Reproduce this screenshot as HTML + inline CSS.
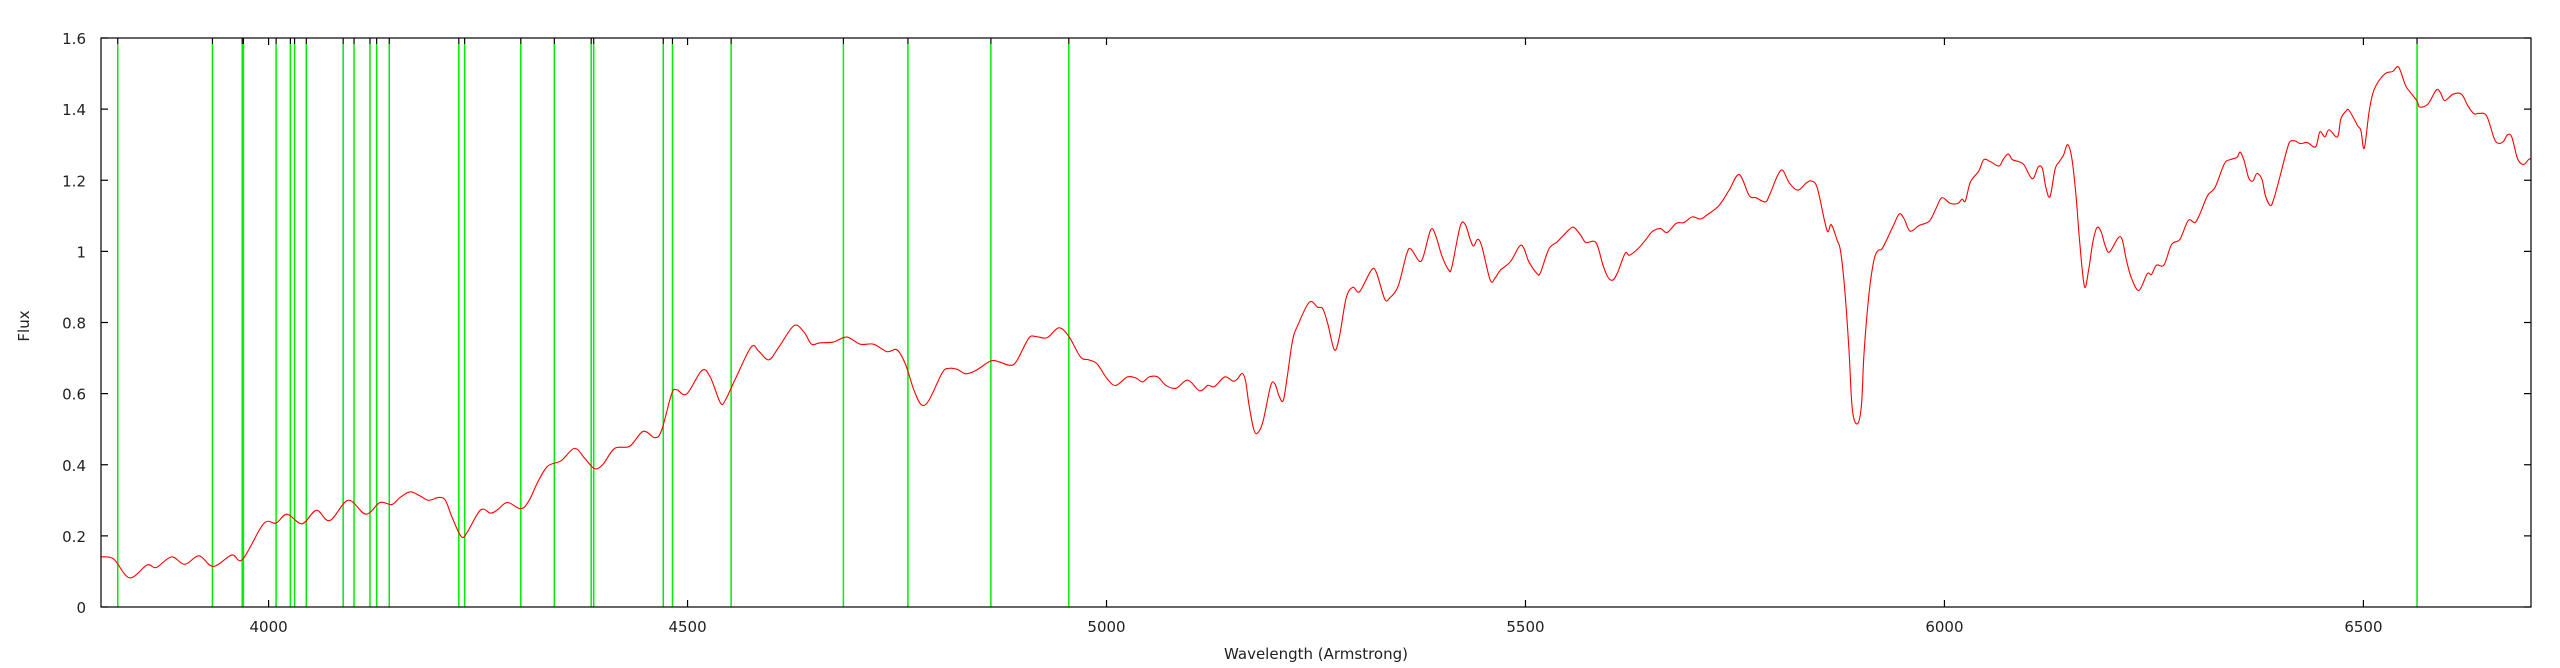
<!DOCTYPE html>
<html><head><meta charset="utf-8"><style>
html,body{margin:0;padding:0;background:#fff;}
svg{display:block;font-family:"DejaVu Sans","Liberation Sans",sans-serif;}
</style></head><body>
<svg id="chart" width="2560" height="668" viewBox="0 0 2560 668" xmlns="http://www.w3.org/2000/svg">
<rect x="0" y="0" width="2560" height="668" fill="#fff"/>
<g id="lines"></g>
<g id="series"></g>
<g id="axes"></g>
<text x="0" y="0" font-size="15" fill="#222" text-anchor="middle" transform="translate(29,326) rotate(-90)">Flux</text>
<text x="1316" y="659" font-size="15" fill="#222" text-anchor="middle">Wavelength (Armstrong)</text>
</svg>
<script>
const xTicks=[4000,4500,5000,5500,6000,6500];
const yTicks=[0,0.2,0.4,0.6,0.8,1,1.2,1.4,1.6];
const yTickLabels=["0","0.2","0.4","0.6","0.8","1","1.2","1.4","1.6"];
const lineWavelengths=[3820,3933,3968.5,3970,4009,4026,4031,4045,4089,4102,4121,4129,4144,4227,4234,4301,4341,4385,4388,4471,4482,4552,4686,4763,4862,4955,6564];
const wavelengths=[3800,3815,3834,3855,3866,3884,3900,3917,3934,3956,3969,3994,4009,4022,4040,4057,4073,4095,4116,4133,4147,4157,4169,4181,4191,4203,4211,4219,4230,4237,4253,4265,4273,4285,4301,4311,4321,4333,4349,4365,4377,4389,4399,4413,4431,4447,4461,4469,4481,4487,4499,4517,4527,4539,4545,4557,4576,4585,4597,4609,4627,4639,4648,4658,4674,4690,4706,4722,4738,4750,4760,4770,4779,4788,4804,4812,4822,4832,4844,4862,4872,4884,4892,4907,4915,4929,4943,4955,4969,4979,4989,5001,5011,5025,5035,5043,5051,5061,5071,5083,5097,5111,5121,5129,5141,5151,5156,5162,5166,5170,5176,5181,5187,5196,5201,5206,5211,5216,5222,5228,5242,5252,5258,5264,5272,5278,5286,5294,5302,5316,5322,5332,5338,5348,5358,5363,5373,5378,5387,5393,5400,5408,5412,5422,5428,5434,5438,5443,5448,5458,5464,5470,5482,5493,5498,5504,5514,5518,5528,5538,5552,5558,5566,5572,5584,5592,5598,5604,5610,5619,5624,5634,5644,5651,5661,5669,5680,5689,5699,5709,5717,5731,5743,5755,5767,5775,5786,5791,5801,5807,5815,5825,5835,5841,5848,5857,5861,5865,5872,5876,5881,5886,5890,5896,5901,5904,5910,5916,5921,5926,5938,5946,5952,5959,5970,5982,5990,5997,6007,6016,6021,6025,6031,6041,6047,6055,6065,6070,6076,6081,6089,6095,6105,6112,6117,6121,6126,6132,6137,6142,6147,6152,6157,6161,6167,6172,6177,6182,6187,6192,6197,6207,6212,6217,6223,6232,6242,6247,6253,6262,6271,6281,6291,6299,6305,6314,6323,6334,6341,6349,6353,6358,6363,6368,6373,6379,6383,6389,6393,6399,6409,6413,6419,6425,6433,6443,6448,6454,6459,6469,6473,6479,6483,6493,6497,6501,6507,6513,6525,6535,6542,6550,6555,6564,6567,6577,6587,6592,6597,6607,6617,6625,6632,6638,6647,6656,6661,6667,6672,6677,6683,6687,6692,6697,6700];
const fluxValues=[0.141,0.135,0.082,0.118,0.111,0.141,0.120,0.144,0.114,0.146,0.134,0.234,0.236,0.261,0.234,0.272,0.243,0.300,0.261,0.294,0.288,0.308,0.324,0.312,0.300,0.308,0.300,0.252,0.198,0.210,0.273,0.264,0.273,0.294,0.276,0.300,0.350,0.396,0.411,0.446,0.419,0.389,0.401,0.446,0.452,0.494,0.476,0.497,0.599,0.611,0.599,0.665,0.647,0.575,0.581,0.641,0.731,0.719,0.695,0.731,0.791,0.773,0.739,0.743,0.745,0.759,0.739,0.739,0.718,0.723,0.683,0.611,0.569,0.581,0.659,0.671,0.668,0.656,0.665,0.692,0.689,0.680,0.689,0.755,0.761,0.757,0.785,0.761,0.703,0.695,0.683,0.641,0.623,0.647,0.644,0.633,0.647,0.647,0.623,0.615,0.638,0.608,0.623,0.620,0.647,0.635,0.641,0.657,0.635,0.569,0.497,0.491,0.524,0.623,0.627,0.593,0.581,0.653,0.749,0.791,0.857,0.843,0.839,0.797,0.723,0.761,0.869,0.899,0.887,0.947,0.941,0.866,0.869,0.902,0.991,1.007,0.973,0.985,1.061,1.043,0.989,0.949,0.955,1.070,1.076,1.034,1.015,1.034,1.013,0.919,0.926,0.947,0.971,1.015,1.009,0.971,0.937,0.941,1.007,1.027,1.061,1.067,1.045,1.025,1.025,0.965,0.929,0.919,0.941,0.995,0.989,1.007,1.034,1.055,1.064,1.053,1.079,1.081,1.097,1.091,1.103,1.129,1.172,1.216,1.157,1.151,1.139,1.157,1.214,1.228,1.192,1.172,1.192,1.198,1.180,1.085,1.055,1.075,1.031,1.001,0.893,0.725,0.557,0.515,0.569,0.713,0.881,0.977,1.003,1.009,1.067,1.105,1.091,1.057,1.073,1.085,1.121,1.151,1.135,1.135,1.147,1.142,1.195,1.226,1.258,1.252,1.240,1.258,1.274,1.258,1.252,1.243,1.204,1.238,1.232,1.180,1.154,1.231,1.252,1.270,1.300,1.262,1.157,1.037,0.902,0.947,1.025,1.067,1.055,1.015,0.998,1.037,1.034,0.977,0.926,0.890,0.937,0.935,0.961,0.962,1.019,1.034,1.087,1.081,1.106,1.157,1.180,1.246,1.258,1.264,1.279,1.252,1.207,1.198,1.219,1.202,1.157,1.129,1.147,1.198,1.288,1.310,1.310,1.303,1.306,1.294,1.336,1.322,1.342,1.322,1.372,1.394,1.396,1.354,1.340,1.290,1.396,1.456,1.498,1.506,1.518,1.468,1.450,1.423,1.406,1.414,1.454,1.446,1.424,1.442,1.442,1.408,1.387,1.388,1.381,1.318,1.304,1.309,1.328,1.322,1.267,1.249,1.245,1.258,1.261];

const NS="http://www.w3.org/2000/svg";
const L=101,R=2531,T=38,B=607,XMIN=3800,XMAX=6700,YMIN=0,YMAX=1.6;
function xScale(w){return L+(w-XMIN)/(XMAX-XMIN)*(R-L);}
function yScale(f){return B-(f-YMIN)/(YMAX-YMIN)*(B-T);}
function mk(tag,attrs,parent){const e=document.createElementNS(NS,tag);for(const k in attrs)e.setAttribute(k,attrs[k]);parent.appendChild(e);return e;}

const lg=document.getElementById('lines');
lineWavelengths.forEach(w=>{
  const x=xScale(w);
  const ln=mk('line',{x1:x,x2:x,y1:B,y2:T+6,stroke:'#00ee00','stroke-width':1.5},lg);
  
  
  const tk=mk('line',{x1:x,x2:x,y1:T,y2:T+6,stroke:'#000','stroke-width':1.2},lg);
  
  
});

const sg=document.getElementById('series');
const P=wavelengths.map((w,i)=>[xScale(w),yScale(fluxValues[i])]);
let d='M'+P[0][0].toFixed(2)+','+P[0][1].toFixed(2);
for(let i=0;i<P.length-1;i++){
  const p0=P[Math.max(0,i-1)],p1=P[i],p2=P[i+1],p3=P[Math.min(P.length-1,i+2)];
  const c1x=p1[0]+(p2[0]-p0[0])/6,c1y=p1[1]+(p2[1]-p0[1])/6;
  const c2x=p2[0]-(p3[0]-p1[0])/6,c2y=p2[1]-(p3[1]-p1[1])/6;
  d+=' C'+c1x.toFixed(2)+','+c1y.toFixed(2)+' '+c2x.toFixed(2)+','+c2y.toFixed(2)+' '+p2[0].toFixed(2)+','+p2[1].toFixed(2);
}
const pl=mk('path',{d:d,fill:'none',stroke:'#ff0000','stroke-width':1.1,'stroke-linejoin':'round'},sg);



const ag=document.getElementById('axes');
const frame=mk('rect',{x:L,y:T,width:R-L,height:B-T,fill:'none',stroke:'#000','stroke-width':1.2},ag);


xTicks.forEach(v=>{
  const x=xScale(v);
  mk('line',{x1:x,x2:x,y1:B,y2:B-7,stroke:'#000','stroke-width':1.2},ag);
  mk('line',{x1:x,x2:x,y1:T,y2:T+7,stroke:'#000','stroke-width':1.2},ag);
  const t=mk('text',{x:x,y:B+25,'font-size':15,fill:'#222','text-anchor':'middle'},ag);
  t.textContent=String(v);
  
  
});
yTicks.forEach((v,i)=>{
  const y=yScale(v);
  mk('line',{x1:L,x2:L+7,y1:y,y2:y,stroke:'#000','stroke-width':1.2},ag);
  mk('line',{x1:R,x2:R-7,y1:y,y2:y,stroke:'#000','stroke-width':1.2},ag);
  const t=mk('text',{x:86,y:y+6,'font-size':15,fill:'#222','text-anchor':'end'},ag);
  t.textContent=yTickLabels[i];
  
  
});
</script>
</body></html>
